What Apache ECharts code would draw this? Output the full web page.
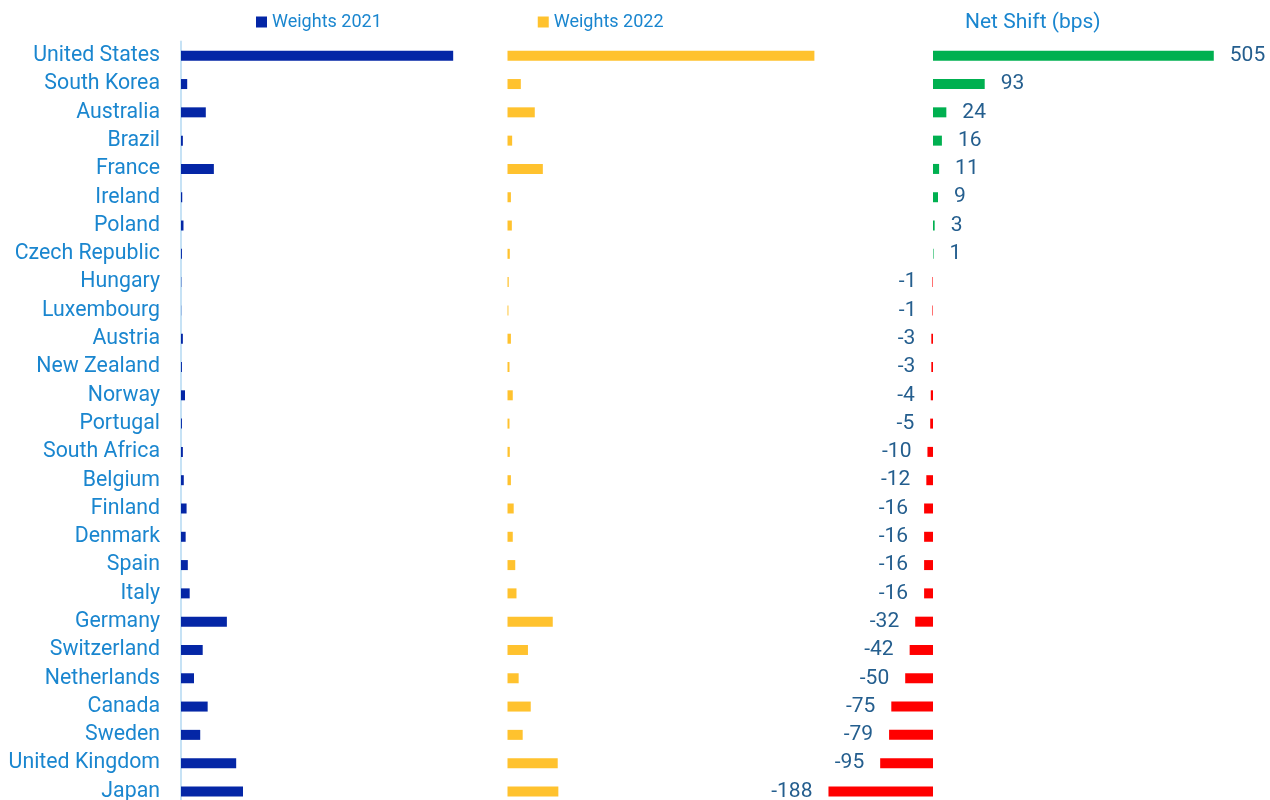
<!DOCTYPE html>
<html>
<head>
<meta charset="utf-8">
<title>Weights and net shift</title>
<script src="https://cdn.jsdelivr.net/npm/echarts@6/dist/echarts.min.js"></script>
<style>
    html, body { margin: 0; padding: 0; background: #fff; }
    #chart { width: 1270px; height: 800px; }
</style>
</head>
<body>
<div id="chart"></div>
<script>
// 国家
var countries = ['United States', 'South Korea', 'Australia', 'Brazil', 'France', 'Ireland', 'Poland',
    'Czech Republic', 'Hungary', 'Luxembourg', 'Austria', 'New Zealand', 'Norway', 'Portugal',
    'South Africa', 'Belgium', 'Finland', 'Denmark', 'Spain', 'Italy', 'Germany', 'Switzerland',
    'Netherlands', 'Canada', 'Sweden', 'United Kingdom', 'Japan'];
// 权重 (%)
var weights2021 = [43.9, 1.0, 4.0, 0.3, 5.3, 0.2, 0.4, 0.15, 0.05, 0.03, 0.3, 0.15, 0.65, 0.15,
    0.3, 0.45, 0.9, 0.75, 1.1, 1.4, 7.4, 3.5, 2.1, 4.3, 3.1, 8.9, 10.0];
var weights2022 = [49.5, 2.15, 4.4, 0.75, 5.7, 0.55, 0.7, 0.37, 0.2, 0.15, 0.55, 0.32, 0.85, 0.32,
    0.37, 0.55, 1.0, 0.85, 1.25, 1.45, 7.3, 3.3, 1.8, 3.75, 2.45, 8.1, 8.2];
// 净变化 (bps)
var netShift = [505, 93, 24, 16, 11, 9, 3, 1, -1, -1, -3, -3, -4, -5, -10, -12, -16, -16, -16, -16,
    -32, -42, -50, -75, -79, -95, -188];

var labelBlue = '#1a86cf';
var valueBlue = '#245e8e';
var font = 'Roboto';

var shiftData = netShift.map(function (v) {
    return {
        value: v,
        itemStyle: { color: v >= 0 ? '#00b050' : '#ff0000' },
        label: { position: v >= 0 ? 'right' : 'left' }
    };
});

var gridTop = 41.6, gridH = 764;

var chart = echarts.init(document.getElementById('chart'));
chart.setOption({
    animation: false,
    textStyle: { fontFamily: font },
    title: {
        text: 'Net Shift (bps)',
        left: 960,
        top: 7,
        textStyle: { color: labelBlue, fontSize: 21, fontWeight: 'normal', fontFamily: font }
    },
    legend: {
        data: ['Weights 2021', 'Weights 2022'],
        left: 251,
        top: 8,
        icon: 'rect',
        itemWidth: 11,
        itemHeight: 11,
        itemGap: 156,
        textStyle: { color: labelBlue, fontSize: 18, fontFamily: font }
    },
    grid: [
        { left: 181, top: gridTop, width: 310, height: gridH, outerBoundsMode: 'none' },
        { left: 507.5, top: gridTop, width: 310, height: gridH, outerBoundsMode: 'none' },
        { left: 766.2, top: gridTop, width: 472.6, height: gridH, outerBoundsMode: 'none' }
    ],
    xAxis: [
        { type: 'value', gridIndex: 0, min: 0, max: 50, show: false },
        { type: 'value', gridIndex: 1, min: 0, max: 50, show: false },
        { type: 'value', gridIndex: 2, min: -300, max: 550, show: false }
    ],
    yAxis: [
        {
            type: 'category', gridIndex: 0, data: countries, inverse: true,
            axisLine: { show: true, lineStyle: { color: '#c6e2f5', width: 2 } },
            axisTick: { show: false },
            axisLabel: { color: labelBlue, fontSize: 21.3, margin: 21, fontFamily: font }
        },
        {
            type: 'category', gridIndex: 1, data: countries, inverse: true,
            axisLine: { show: false }, axisTick: { show: false }, axisLabel: { show: false }
        },
        {
            type: 'category', gridIndex: 2, data: countries, inverse: true,
            axisLine: { show: false }, axisTick: { show: false }, axisLabel: { show: false }
        }
    ],
    series: [
        {
            name: 'Weights 2021', type: 'bar', xAxisIndex: 0, yAxisIndex: 0,
            data: weights2021, barWidth: 10, itemStyle: { color: '#0426a6' }
        },
        {
            name: 'Weights 2022', type: 'bar', xAxisIndex: 1, yAxisIndex: 1,
            data: weights2022, barWidth: 10, itemStyle: { color: '#ffc22e' }
        },
        {
            name: 'Net Shift', type: 'bar', xAxisIndex: 2, yAxisIndex: 2,
            data: shiftData, barWidth: 10,
            label: { show: true, distance: 16, color: valueBlue, fontSize: 21, fontFamily: font }
        }
    ]
});
</script>
</body>
</html>
